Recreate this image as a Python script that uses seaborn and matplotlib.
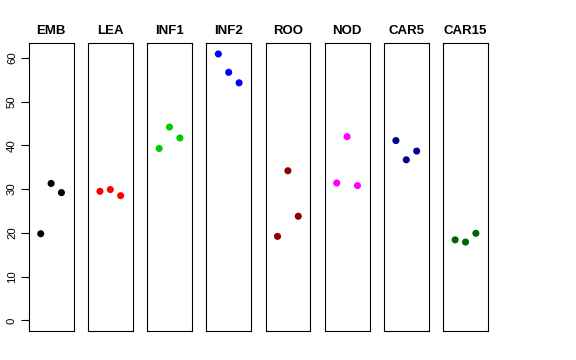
import matplotlib
matplotlib.use("Agg")
import matplotlib.pyplot as plt
import seaborn as sns
import pandas as pd

sns.set_style("white")
plt.rcParams['font.family'] = ['Liberation Sans', 'DejaVu Sans']
plt.rcParams['text.color'] = 'black'
plt.rcParams['axes.labelcolor'] = 'black'
plt.rcParams['ytick.color'] = 'black'

tissues = ["EMB", "LEA", "INF1", "INF2", "ROO", "NOD", "CAR5", "CAR15"]
colors = ["#000000", "#FF0000", "#00CD00", "#0000FF", "#8B0000", "#FF00FF", "#00008B", "#006400"]
replicate = [1, 2, 3]
values = {
    "EMB":   [19.8, 31.3, 29.2],
    "LEA":   [29.5, 29.9, 28.5],
    "INF1":  [39.3, 44.2, 41.7],
    "INF2":  [60.9, 56.7, 54.3],
    "ROO":   [19.2, 34.2, 23.8],
    "NOD":   [31.4, 42.0, 30.8],
    "CAR5":  [41.1, 36.7, 38.7],
    "CAR15": [18.4, 17.9, 19.9],
}
yticks = [0, 10, 20, 30, 40, 50, 60]

W, H = 576, 360
fig = plt.figure(figsize=(W / 100, H / 100), dpi=100)

left0 = 28.7
pw = 44.8
step = 59.2
top_px, bot_px = 43.3, 331.0
ymax = max(max(v) for v in values.values())
pad = 0.04 * ymax

for i, (t, c) in enumerate(zip(tissues, colors)):
    x0 = left0 + i * step
    ax = fig.add_axes([x0 / W, 1 - bot_px / H, pw / W, (bot_px - top_px) / H])
    df = pd.DataFrame({"x": replicate, "y": values[t]})
    sns.scatterplot(data=df, x="x", y="y", ax=ax, color=c, s=26, edgecolor="none", linewidth=0)
    ax.set_xlim(-0.16, 4.16)
    ax.set_ylim(-pad, ymax + pad)
    ax.set_xticks([])
    ax.set_xlabel("")
    ax.set_ylabel("")
    for sp in ax.spines.values():
        sp.set_visible(True)
        sp.set_color("black")
        sp.set_linewidth(0.8)
    ax.set_title(t, fontsize=9.5, fontweight="bold", pad=6.5, color="black")
    if i == 0:
        ax.set_yticks(yticks)
        ax.set_yticklabels([str(v) for v in yticks], rotation=90, va="center", fontsize=8.2, color="black")
        ax.tick_params(axis="y", left=True, length=5.5, width=0.8, color="black", pad=3)
    else:
        ax.set_yticks([])

fig.savefig("out.png", dpi=100, facecolor="white")
